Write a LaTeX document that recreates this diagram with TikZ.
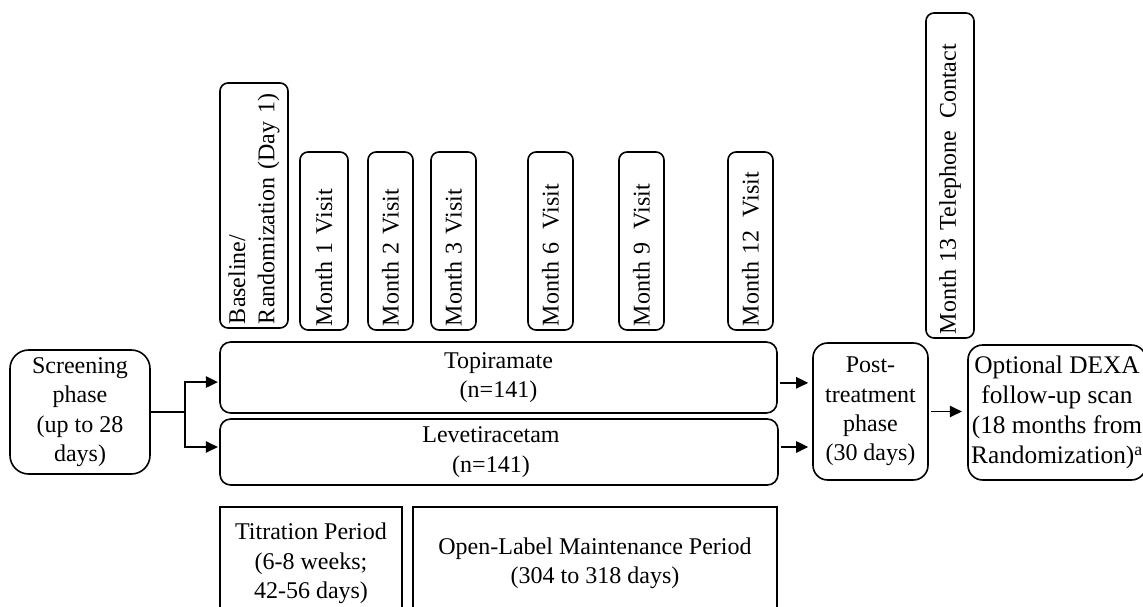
\documentclass[tikz,border=0pt]{standalone}
\usepackage{fontspec}
\setmainfont{Liberation Serif}
\usetikzlibrary{arrows.meta,calc}
\begin{document}
\begin{tikzpicture}[x=0.75pt,y=-0.75pt,
  every node/.style={font=\fontsize{18}{22}\selectfont},
  box/.style={draw, line width=1.2pt, align=center, inner sep=0pt},
  rbox/.style={box, rounded corners=#1},
  vis/.style={draw, line width=1.2pt, rounded corners=6pt, rotate=90, align=left,
    inner xsep=3pt, inner ysep=0pt},
  conn/.style={line width=1.2pt},
  arr/.style={conn, -{Triangle[length=9pt,width=8.5pt]}}]
\clip (0,0) rectangle (1143,607);
% vertical visit boxes
\node[vis, minimum width=183.75pt, text width=177.75pt, minimum height=51pt] (base) at (254,205.5) {Baseline/\\Randomization (Day 1)};
\node[vis, minimum width=133.5pt, text width=127.5pt, minimum height=36pt] (m1) at (324,241) {Month 1 Visit};
\node[vis, minimum width=133.5pt, text width=127.5pt, minimum height=33.75pt] (m2) at (390.5,241) {Month 2 Visit};
\node[vis, minimum width=133.5pt, text width=127.5pt, minimum height=33.75pt] (m3) at (453.5,241) {Month 3 Visit};
\node[vis, minimum width=133.5pt, text width=127.5pt, minimum height=33.75pt] (m6) at (550.5,241) {Month 6 \hspace{0.2em}Visit};
\node[vis, minimum width=133.5pt, text width=127.5pt, minimum height=33.75pt] (m9) at (641.5,241) {Month 9 \hspace{0.2em}Visit};
\node[vis, minimum width=133.5pt, text width=127.5pt, minimum height=33.75pt] (m12) at (750.5,241) {Month 12 \hspace{0.2em}Visit};
\node[vis, minimum width=243.75pt, text width=237.75pt, minimum height=36pt] (m13) at (950,175.5) {Month 13 Telephone \hspace{0.15em}Contact};
% main boxes
\node[rbox=14pt, minimum width=105pt, minimum height=93pt] (screen) at (80,412) {Screening\\phase\\(up to 28\\days)};
\node[rbox=8pt, minimum width=417.75pt, minimum height=53.25pt] (topi) at (498.5,377.5) {Topiramate\\(n=141)};
\node[rbox=8pt, minimum width=418.5pt, minimum height=49.5pt] (leve) at (499,452) {Levetiracetam\hspace*{12pt}\\(n=141)\hspace*{12pt}};
\node[rbox=11pt, minimum width=86.25pt, minimum height=102.75pt] (post) at (870.5,411.5) {Post-\\treatment\\phase\\(30 days)};
\node[rbox=11pt, minimum width=133.5pt, minimum height=101.25pt, font=\fontsize{19}{22.5}\selectfont] (dexa) at (1057,412.5) {Optional DEXA\\follow-up scan\\(18 months from\\Randomization)\textsuperscript{a}};
% period boxes
\node[box, minimum width=136.5pt, minimum height=84.75pt] (titr) at (311,563.5) {Titration Period\\(6-8 weeks;\\42-56 days)};
\node[box, minimum width=273pt, minimum height=84.75pt] (open) at (595,563.5) {Open-Label Maintenance Period\\(304 to 318 days)};
% connectors
\coordinate (split) at (185,412);
\coordinate (tin) at ([yshift=-3.4pt]topi.west);
\coordinate (lin) at ([yshift=3.75pt]leve.west);
\coordinate (tout) at ([yshift=-4pt]topi.east);
\coordinate (lout) at ([yshift=3.75pt]leve.east);
\draw[conn] (screen.east) -- (split);
\draw[arr, shorten >=1pt] (split) |- (tin);
\draw[arr, shorten >=1pt] (split) |- (lin);
\draw[arr, shorten <=1.5pt, shorten >=3pt] (tout) -- (tout -| post.west);
\draw[arr, shorten <=1.5pt, shorten >=3pt] (lout) -- (lout -| post.west);
\draw[arr, shorten <=1.5pt, shorten >=4pt] (post.east) -- (post.east -| dexa.west);
\end{tikzpicture}
\end{document}
